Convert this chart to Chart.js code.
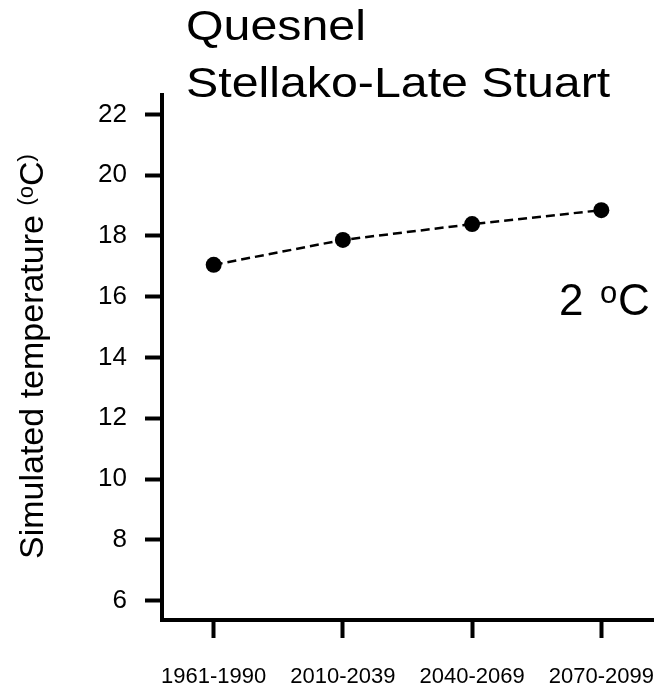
<!DOCTYPE html>
<html>
<head>
<meta charset="utf-8">
<script src="https://cdn.jsdelivr.net/npm/chart.js@4.4.1/dist/chart.umd.min.js"></script>
<style>
  html, body { margin: 0; padding: 0; background: #fff; }
  #wrap { width: 658px; height: 692px; }
</style>
</head>
<body>
<div id="wrap"><canvas id="chart" width="658" height="692"></canvas></div>
<script>
// periods on the x axis and where they sit
const periods = ['1961-1990', '2010-2039', '2040-2069', '2070-2099'];
const periodPos = [1, 2, 3, 4];
// simulated temperature for each period
const temps = [17.05, 17.87, 18.39, 18.85];
// y tick marks
const yTicks = [6, 8, 10, 12, 14, 16, 18, 20, 22];
const titleLines = ['Quesnel', 'Stellako-Late Stuart'];

const FONT = '"Liberation Sans", Arial, sans-serif';

// titles, y axis label and the change note are drawn by hand
const textPlugin = {
  id: 'texts',
  afterDraw(chart) {
    const ctx = chart.ctx;
    ctx.save();
    ctx.fillStyle = '#000';
    ctx.textBaseline = 'alphabetic';
    ctx.textAlign = 'left';

    // title
    ctx.font = '42px ' + FONT;
    ctx.save();
    ctx.translate(186, 0);
    ctx.scale(1.15, 1);
    ctx.fillText(titleLines[0], 0, 40);
    ctx.fillText(titleLines[1], 0, 97);
    ctx.restore();

    // y axis title
    ctx.save();
    ctx.translate(43, 559);
    ctx.rotate(-Math.PI / 2);
    let x = 0;
    ctx.font = '34px ' + FONT;
    ctx.fillText('Simulated temperature ', x, 0);
    x += ctx.measureText('Simulated temperature ').width;
    ctx.font = '22px ' + FONT;
    ctx.fillText('(o', x, -10);
    x += ctx.measureText('(o').width;
    ctx.font = '34px ' + FONT;
    ctx.fillText('C', x, 0);
    x += ctx.measureText('C').width;
    ctx.font = '22px ' + FONT;
    ctx.fillText(')', x, -10);
    ctx.restore();

    // change note
    ctx.font = '44px ' + FONT;
    ctx.fillText('2', 559, 315);
    ctx.font = '31px ' + FONT;
    ctx.fillText('o', 600, 303);
    ctx.font = '44px ' + FONT;
    ctx.fillText('C', 618, 315);

    ctx.restore();
  }
};

new Chart(document.getElementById('chart'), {
  type: 'line',
  data: {
    datasets: [{
      data: periodPos.map((p, i) => ({ x: p, y: temps[i] })),
      borderColor: '#000',
      backgroundColor: '#000',
      borderWidth: 2.5,
      borderDash: [9, 5],
      pointRadius: 8,
      pointBackgroundColor: '#000',
      pointBorderWidth: 0,
      tension: 0
    }]
  },
  options: {
    responsive: false,
    animation: false,
    layout: { autoPadding: false, padding: { top: 95, right: 5, left: 0, bottom: 0 } },
    plugins: { legend: { display: false }, tooltip: { enabled: false } },
    scales: {
      x: {
        type: 'linear',
        min: 0.6,
        max: 4.4,
        afterBuildTicks: (scale) => { scale.ticks = periodPos.map(v => ({ value: v })); },
        afterFit: (scale) => {
          scale.height = 72;
          scale.paddingLeft = 0;
          scale.paddingRight = 0;
        },
        grid: { drawOnChartArea: false, drawTicks: true, tickLength: 18, tickWidth: 4, tickColor: '#000' },
        border: { display: true, color: '#000', width: 4 },
        ticks: {
          autoSkip: false,
          maxRotation: 0,
          padding: 26,
          color: '#000',
          font: { family: FONT, size: 22 },
          callback: (v) => periods[periodPos.indexOf(v)]
        }
      },
      y: {
        min: 5.36,
        max: 22.64,
        afterBuildTicks: (scale) => { scale.ticks = yTicks.map(v => ({ value: v })); },
        afterFit: (scale) => {
          scale.width = 162;
          scale.paddingTop = 0;
          scale.paddingBottom = 0;
        },
        grid: { drawOnChartArea: false, drawTicks: true, tickLength: 17, tickWidth: 4, tickColor: '#000' },
        border: { display: true, color: '#000', width: 4 },
        ticks: {
          padding: 18,
          color: '#000',
          font: { family: FONT, size: 26 },
          callback: (v) => String(v)
        }
      }
    }
  },
  plugins: [textPlugin]
});
</script>
</body>
</html>
